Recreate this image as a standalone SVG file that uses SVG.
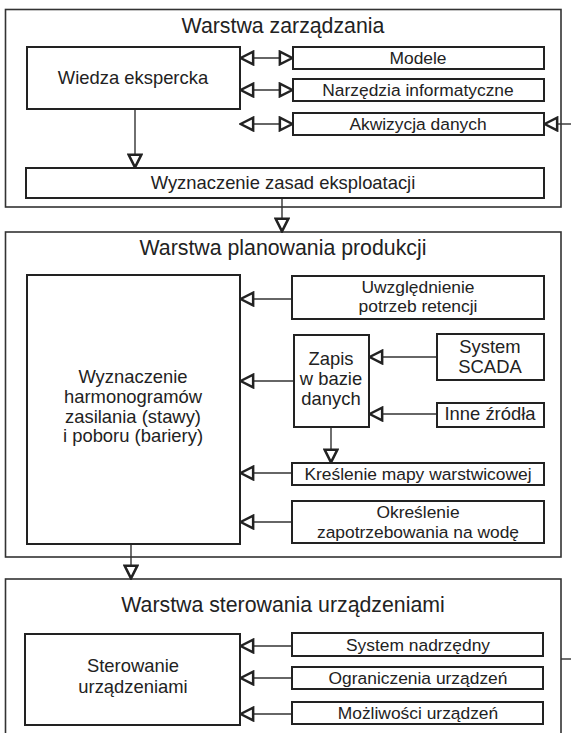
<svg xmlns="http://www.w3.org/2000/svg" width="571" height="733" viewBox="0 0 571 733">
<style>
.layer{fill:#fff;stroke:#333;stroke-width:1.6}
.box{fill:#fff;stroke:#222;stroke-width:2}
.t{font-family:"Liberation Sans",Arial,sans-serif;font-size:17.4px;fill:#222;text-anchor:middle}
.m{font-family:"Liberation Sans",Arial,sans-serif;font-size:18.4px;fill:#222;text-anchor:middle}
.h{font-family:"Liberation Sans",Arial,sans-serif;font-size:21.3px;fill:#222;text-anchor:middle}
.c{fill:none;stroke:#333;stroke-width:1.4}
.a{marker-end:url(#ah)}
.d{marker-end:url(#ah);marker-start:url(#ah)}
</style>
<defs>
<marker id="ah" markerUnits="userSpaceOnUse" markerWidth="16" markerHeight="16" viewBox="-1.5 -1.5 14 14" refX="11.5" refY="5.5" orient="auto-start-reverse">
<path d="M0,0 L11,5.5 L0,11 Z" fill="#fff" stroke="#222" stroke-width="2.2" stroke-linejoin="miter"/>
</marker>
</defs>
<g id="layer1">
<rect class="layer" x="5.5" y="9.5" width="555.5" height="197.5"/>
<text class="h" x="283" y="33">Warstwa zarządzania</text>
</g>
<g id="layer2">
<rect class="layer" x="5.5" y="232" width="555.5" height="325"/>
<text class="h" x="283" y="255">Warstwa planowania produkcji</text>
</g>
<g id="layer3">
<rect class="layer" x="5.5" y="579" width="555.5" height="180"/>
<text class="h" x="283" y="612">Warstwa sterowania urządzeniami</text>
</g>
<g id="connectors">
<path class="c d" d="M240,58 H293"/>
<path class="c d" d="M240,90 H293"/>
<path class="c d" d="M240,124 H293"/>
<path class="c a" d="M571,124 H544"/>
<path class="c a" d="M135,109 V168"/>
<path class="c a" d="M282,198 V232"/>
<path class="c a" d="M292,299 H240"/>
<path class="c a" d="M437,357 H369"/>
<path class="c a" d="M437,414 H369"/>
<path class="c a" d="M294,381 H240"/>
<path class="c a" d="M331,427 V463"/>
<path class="c a" d="M292,473 H240"/>
<path class="c a" d="M292,522 H240"/>
<path class="c a" d="M131,544 V579"/>
<path class="c a" d="M292,646 H240"/>
<path class="c a" d="M292,678 H240"/>
<path class="c a" d="M292,714 H240"/>
<path class="c" d="M561,659 H571"/>
</g>
<g id="wiedza">
<rect class="box" x="27" y="47" width="213" height="62"/>
<text class="m" x="133" y="84">Wiedza ekspercka</text>
</g>
<g id="modele">
<rect class="box" x="293" y="47" width="251" height="22"/>
<text class="t" x="418" y="64">Modele</text>
</g>
<g id="narzedzia">
<rect class="box" x="293" y="79" width="251" height="22"/>
<text class="t" x="418" y="96">Narzędzia informatyczne</text>
</g>
<g id="akwizycja">
<rect class="box" x="293" y="113" width="251" height="22"/>
<text class="t" x="418" y="130">Akwizycja danych</text>
</g>
<g id="zasady">
<rect class="box" x="26" y="168" width="518" height="30"/>
<text class="m" x="283" y="189">Wyznaczenie zasad eksploatacji</text>
</g>
<g id="harmonogramy">
<rect class="box" x="27" y="275" width="213" height="269"/>
<text class="m" x="133" y="383">Wyznaczenie</text>
<text class="m" x="133" y="403">harmonogramów</text>
<text class="m" x="133" y="423">zasilania (stawy)</text>
<text class="m" x="133" y="442">i poboru (bariery)</text>
</g>
<g id="retencja">
<rect class="box" x="292" y="276" width="252" height="43"/>
<text class="t" x="418" y="293">Uwzględnienie</text>
<text class="t" x="418" y="312">potrzeb retencji</text>
</g>
<g id="zapis">
<rect class="box" x="294" y="335" width="75" height="92"/>
<text class="m" x="331" y="365">Zapis</text>
<text class="m" x="331" y="385">w bazie</text>
<text class="m" x="331" y="405">danych</text>
</g>
<g id="scada">
<rect class="box" x="437" y="334" width="107" height="46"/>
<text class="m" x="490" y="353">System</text>
<text class="m" x="490" y="373">SCADA</text>
</g>
<g id="inne">
<rect class="box" x="437" y="403" width="107" height="24"/>
<text class="m" x="490" y="420">Inne źródła</text>
</g>
<g id="mapa">
<rect class="box" x="292" y="463" width="252" height="22"/>
<text class="t" x="418" y="480">Kreślenie mapy warstwicowej</text>
</g>
<g id="zapotrzebowanie">
<rect class="box" x="292" y="501" width="252" height="42"/>
<text class="t" x="418" y="518">Określenie</text>
<text class="t" x="418" y="538">zapotrzebowania na wodę</text>
</g>
<g id="sterowanie">
<rect class="box" x="25" y="634" width="215" height="91"/>
<text class="m" x="133" y="672">Sterowanie</text>
<text class="m" x="133" y="693">urządzeniami</text>
</g>
<g id="nadrzedny">
<rect class="box" x="292" y="633" width="251" height="23"/>
<text class="t" x="418" y="651">System nadrzędny</text>
</g>
<g id="ograniczenia">
<rect class="box" x="292" y="667" width="251" height="22"/>
<text class="t" x="418" y="684">Ograniczenia urządzeń</text>
</g>
<g id="mozliwosci">
<rect class="box" x="292" y="702" width="251" height="22"/>
<text class="t" x="418" y="719">Możliwości urządzeń</text>
</g>
</svg>
